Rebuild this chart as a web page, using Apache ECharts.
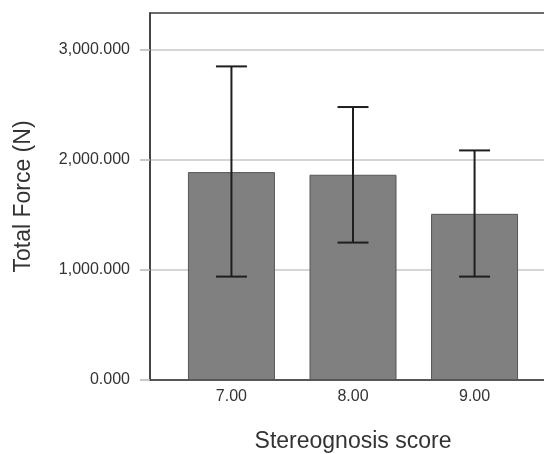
<!DOCTYPE html>
<html>
<head>
<meta charset="utf-8">
<script src="https://cdn.jsdelivr.net/npm/echarts@6/dist/echarts.min.js"></script>
<style>html,body{margin:0;padding:0;background:#fff}#c{width:544px;height:454px}</style>
</head>
<body>
<div id="c"></div>
<script>
var categories = ['7.00', '8.00', '9.00'];
var meanForce = [1888, 1864, 1509];
var ciLower = [939, 1248, 939];
var ciUpper = [2848, 2479, 2085];
var yTicks = [0, 1000, 2000, 3000];

var xPos = categories.map(function (c) { return parseFloat(c); });
var barData = xPos.map(function (x, i) { return [x, meanForce[i]]; });
var errData = xPos.map(function (x, i) { return [x, ciLower[i], ciUpper[i]]; });

var chart = echarts.init(document.getElementById('c'));
chart.setOption({
  animation: false,
  backgroundColor: '#ffffff',
  grid: { left: 150, top: 13, height: 367, width: 406, outerBoundsMode: 'none', containLabel: false, show: true, borderColor: '#3a3a3a', borderWidth: 1.5, backgroundColor: 'transparent' },
  xAxis: {
    type: 'value', min: 6.33, max: 9.67,
    name: 'Stereognosis score', nameLocation: 'middle', nameGap: 50,
    nameTextStyle: { fontFamily: 'Liberation Sans', fontSize: 23, color: '#333' },
    axisLine: { show: true, lineStyle: { color: '#3a3a3a', width: 1.5 } },
    axisTick: { show: false },
    splitLine: { show: false },
    axisLabel: {
      customValues: xPos, margin: 9,
      fontFamily: 'Liberation Sans', fontSize: 16, color: '#333',
      formatter: function (v) { return v.toFixed(2); }
    }
  },
  yAxis: {
    type: 'value', min: 0, max: 3333, interval: 1000,
    name: 'Total Force (N)', nameLocation: 'middle', nameGap: 115,
    nameTextStyle: { fontFamily: 'Liberation Sans', fontSize: 23, color: '#333' },
    axisLine: { show: true, lineStyle: { color: '#3a3a3a', width: 1.5 } },
    axisTick: { show: true, length: 10, lineStyle: { color: '#b8b8b8', width: 1.5 }, customValues: yTicks },
    splitLine: { show: true, lineStyle: { color: '#c4c8c4', width: 1.5 } },
    axisLabel: {
      customValues: yTicks, margin: 20,
      fontFamily: 'Liberation Sans', fontSize: 16, color: '#333',
      formatter: function (v) {
        return v.toLocaleString('en-US', { minimumFractionDigits: 3, maximumFractionDigits: 3 });
      }
    }
  },
  series: [
    {
      type: 'bar', data: barData, barWidth: 87,
      itemStyle: { color: '#808080', borderColor: '#555555', borderWidth: 1 }
    },
    {
      type: 'custom', data: errData,
      renderItem: function (params, api) {
        var x = api.value(0);
        var lo = api.coord([x, api.value(1)]);
        var hi = api.coord([x, api.value(2)]);
        var half = 15.5;
        var st = { stroke: '#1e1e1e', lineWidth: 2 };
        return {
          type: 'group',
          children: [
            { type: 'line', shape: { x1: lo[0], y1: lo[1], x2: hi[0], y2: hi[1] }, style: st },
            { type: 'line', shape: { x1: hi[0] - half, y1: hi[1], x2: hi[0] + half, y2: hi[1] }, style: st },
            { type: 'line', shape: { x1: lo[0] - half, y1: lo[1], x2: lo[0] + half, y2: lo[1] }, style: st }
          ]
        };
      },
      z: 5
    }
  ]
});
</script>
</body>
</html>
